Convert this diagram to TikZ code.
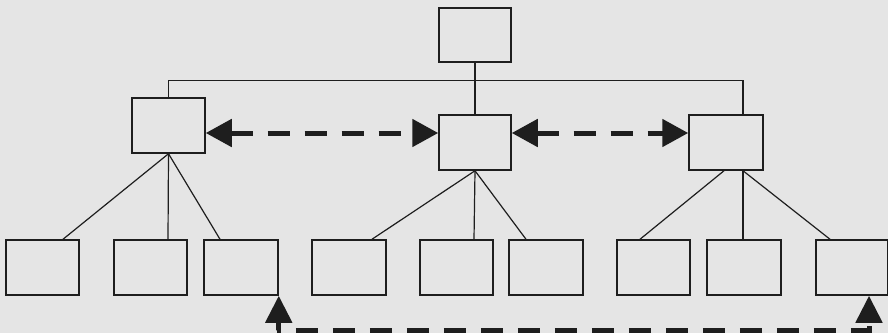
\documentclass[tikz,border=0pt]{standalone}
\usetikzlibrary{arrows.meta,calc}
\definecolor{bg}{RGB}{229,229,229}
\definecolor{ink}{RGB}{30,30,30}
\begin{document}
\begin{tikzpicture}[x=1pt,y=1pt,
  box/.style={draw=ink,line width=1.5pt,minimum width=73pt,minimum height=55pt,inner sep=0pt},
  link/.style={draw=ink,line width=1.2pt},
  dasharrow/.style={draw=ink,line width=5pt,dash pattern=on 22pt off 15pt,
     {Triangle[length=26pt,width=27pt]}-{Triangle[length=26pt,width=27pt]}}]
\fill[bg] (0,0) rectangle (888,333);
\useasboundingbox (0,0) rectangle (888,333);
% top
\node[box,minimum width=72pt,minimum height=54pt] (T) at (475,298) {};
% middle level
\node[box] (L) at (168.5,207.5) {};
\node[box,minimum width=72pt] (M) at (475,190.5) {};
\node[box,minimum width=74pt] (R) at (726,190.5) {};
% bottom level
\node[box] (b1) at (42.5,65.5) {};
\node[box] (b2) at (150.5,65.5) {};
\node[box,minimum width=74pt] (b3) at (241,65.5) {};
\node[box,minimum width=74pt] (b4) at (349,65.5) {};
\node[box] (b5) at (456.5,65.5) {};
\node[box,minimum width=74pt] (b6) at (546,65.5) {};
\node[box] (b7) at (653.5,65.5) {};
\node[box,minimum width=74pt] (b8) at (744,65.5) {};
\node[box,minimum width=72pt] (b9) at (852,65.5) {};
% tree connectors
\draw[link] (T.south) -- ++(0,-18) coordinate (j);
\draw[link] (L.north) |- (j) -| ($(R.north)+(17,0)$);
\draw[link] (j) -- (M.north);
\draw[link] (L.south) -- ($(b1.north)+(20.5,0)$);
\draw[link] (L.south) -- ($(b2.north)+(17.5,0)$);
\draw[link] (L.south) -- ($(b3.north)+(-21,0)$);
\draw[link] (M.south) -- ($(b4.north)+(23,0)$);
\draw[link] (M.south) -- ($(b5.north)+(17.5,0)$);
\draw[link] (M.south) -- ($(b6.north)+(-20,0)$);
\draw[link] ($(R.south)+(-2,0)$) -- ($(b7.north)+(-13.5,0)$);
\draw[link] ($(R.south)+(17,0)$) -- ($(b8.north)+(-1,0)$);
\draw[link] ($(R.south)+(17,0)$) -- ($(b9.north)+(-22,0)$);
% dashed double arrows
\draw[dasharrow] ($(L.east)+(0,-7.5)$) -- ($(M.west)+(0,9.5)$);
\draw[dasharrow] ($(M.east)+(0,9.5)$) -- ($(R.west)+(0,9.5)$);
% bottom dashed link
\coordinate (bl) at (277,3);
\draw[draw=ink,line width=5pt,dash pattern=on 22pt off 15pt,dash phase=8pt,
  {Triangle[length=27pt,width=26pt]}-{Triangle[length=27pt,width=26pt]}]
  (b3.south east) |- (bl) -| ($(b9.south)+(17,0)$);
\end{tikzpicture}
\end{document}
